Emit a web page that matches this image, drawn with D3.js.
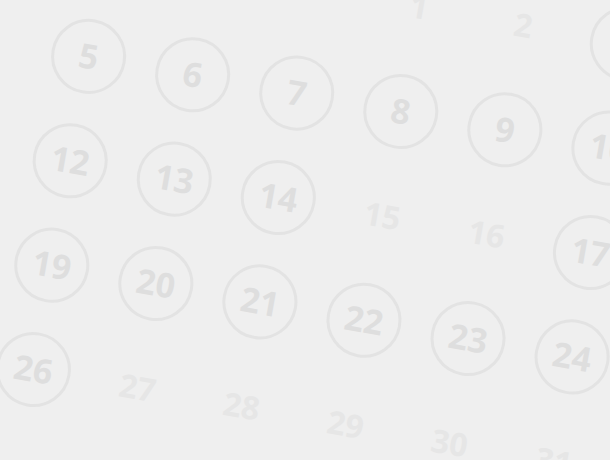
<!DOCTYPE html>
<html><head><meta charset="utf-8">
<script src="https://cdn.jsdelivr.net/npm/d3@7"></script>
<style>body{margin:0;background:#efefef;overflow:hidden}</style>
</head><body>
<script>
// days of the month, first day falls on column 3
const days = d3.range(1, 32);
const firstCol = 3;
const circled = [3,4,5,6,7,8,9,10,11,12,13,14,17,18,19,20,21,22,23,24,25,26];

const W = 610, H = 460;
const svg = d3.select("body").append("svg").attr("width", W).attr("height", H);
svg.append("rect").attr("width", W).attr("height", H).attr("fill", "#efefef");

const x = d3.scaleLinear().domain([0, 6]).range([0, 634]);
const y = d3.scaleLinear().domain([0, 5]).range([0, 530]);

const g = svg.append("g").attr("transform", "translate(107,-48) rotate(10)");

const cell = g.selectAll("g.day").data(days).enter().append("g")
  .attr("transform", d => {
    const i = d - 1 + firstCol;
    return "translate(" + x(i % 7) + "," + y(Math.floor(i / 7)) + ")";
  });

cell.filter(d => circled.includes(d)).append("circle")
  .attr("r", 36).attr("fill", "none").attr("stroke", "#e3e3e3").attr("stroke-width", 3);

cell.append("text")
  .attr("text-anchor", "middle").attr("dy", "0.36em")
  .attr("font-family", "'Open Sans', sans-serif").attr("font-weight", 700)
  .attr("font-size", d => circled.includes(d) ? 34 : 32)
  .attr("fill", d => circled.includes(d) ? "#dedede" : "#e6e6e6")
  .text(d => d);
</script>
</body></html>
